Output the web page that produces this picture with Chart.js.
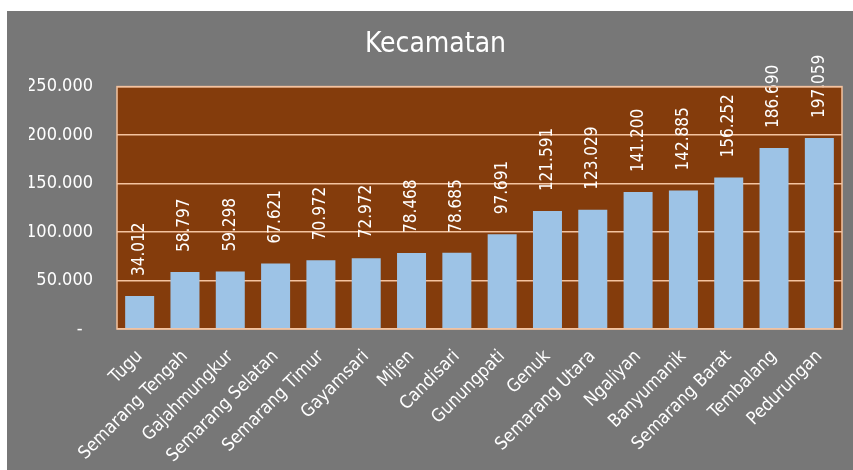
<!DOCTYPE html>
<html>
<head>
<meta charset="utf-8">
<script src="https://cdn.jsdelivr.net/npm/chart.js@4/dist/chart.umd.min.js"></script>
<style>
  html, body { margin: 0; padding: 0; background: #ffffff; }
  #wrap { position: absolute; left: 7px; top: 11px; width: 846px; height: 459px; background: #777777; }
</style>
</head>
<body>
<div id="wrap"><canvas id="kec"></canvas></div>
<script>
var kecamatan = ["Tugu", "Semarang Tengah", "Gajahmungkur", "Semarang Selatan", "Semarang Timur", "Gayamsari", "Mijen", "Candisari", "Gunungpati", "Genuk", "Semarang Utara", "Ngaliyan", "Banyumanik", "Semarang Barat", "Tembalang", "Pedurungan"];
var jumlah = [34012, 58797, 59298, 67621, 70972, 72972, 78468, 78685, 97691, 121591, 123029, 141200, 142885, 156252, 186690, 197059];
var yTicks = [0, 50000, 100000, 150000, 200000, 250000];

var huruf = "'DejaVu Sans Condensed', 'DejaVu Sans', sans-serif";
var peach = '#f4c3a0';

function titik(v) {
    return String(v).replace(/\B(?=(\d{3})+(?!\d))/g, '.');
}

// background plot + border
var latarPlot = {
    id: 'latarPlot',
    beforeDraw: function(chart) {
        var a = chart.chartArea, ctx = chart.ctx;
        ctx.save();
        ctx.fillStyle = '#843c0c';
        ctx.fillRect(a.left, a.top, a.right - a.left, a.bottom - a.top);
        ctx.restore();
    },
    afterDraw: function(chart) {
        var a = chart.chartArea, ctx = chart.ctx;
        ctx.save();
        ctx.strokeStyle = peach;
        ctx.lineWidth = 1.5;
        ctx.strokeRect(a.left, a.top, a.right - a.left, a.bottom - a.top);
        ctx.restore();
    }
};

// label nilai di atas batang, diputar vertikal
var labelNilai = {
    id: 'labelNilai',
    afterDatasetsDraw: function(chart) {
        var ctx = chart.ctx;
        var meta = chart.getDatasetMeta(0);
        ctx.save();
        ctx.fillStyle = '#ffffff';
        ctx.font = '17px ' + huruf;
        ctx.textAlign = 'left';
        ctx.textBaseline = 'middle';
        meta.data.forEach(function(bar, i) {
            ctx.save();
            ctx.translate(bar.x, bar.y - 20);
            ctx.rotate(-Math.PI / 2);
            ctx.fillText(titik(jumlah[i]), 0, 0);
            ctx.restore();
        });
        ctx.restore();
    }
};

var ctx = document.querySelector('#kec').getContext('2d');
var myChart = new Chart(ctx, {
    type: 'bar',
    data: {
        labels: kecamatan,
        datasets: [{
            label: 'Kecamatan',
            data: jumlah,
            backgroundColor: '#9dc3e6',
            borderWidth: 0,
            barPercentage: 0.64,
            categoryPercentage: 1
        }]
    },
    options: {
        responsive: true,
        maintainAspectRatio: false,
        animation: false,
        layout: {
            padding: { left: 22, right: 11, top: 0, bottom: 0 }
        },
        plugins: {
            legend: { display: false },
            tooltip: { enabled: false },
            title: {
                display: true,
                text: 'Kecamatan',
                color: '#ffffff',
                font: { family: huruf, size: 28, weight: 'normal' },
                padding: { top: 17, bottom: 25 }
            }
        },
        scales: {
            x: {
                grid: { display: false, drawTicks: false },
                border: { display: false },
                ticks: {
                    color: '#ffffff',
                    font: { family: huruf, size: 18 },
                    minRotation: 45,
                    maxRotation: 45,
                    autoSkip: false,
                    padding: 17
                },
                afterFit: function(scale) { scale.height = 141; }
            },
            y: {
                min: 0,
                max: 250000,
                afterBuildTicks: function(scale) {
                    scale.ticks = yTicks.map(function(v) { return { value: v }; });
                },
                grid: { color: peach, lineWidth: 1.6, drawTicks: false },
                border: { display: false },
                ticks: {
                    color: '#ffffff',
                    font: { family: huruf, size: 18 },
                    padding: 24,
                    callback: function(v) { return v === 0 ? '-  ' : titik(v); }
                },
                afterFit: function(scale) { scale.width = 88; }
            }
        }
    },
    plugins: [latarPlot, labelNilai]
});
</script>
</body>
</html>
